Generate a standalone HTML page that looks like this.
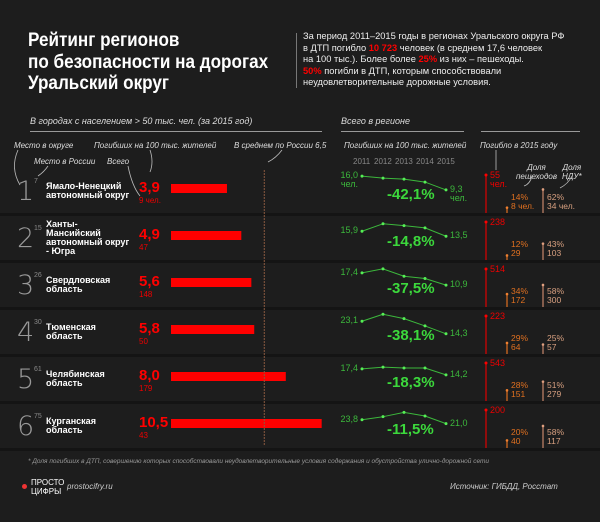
<!DOCTYPE html>
<html><head><meta charset="utf-8">
<style>
body{margin:0;background:#1c1c1c;}
#c{position:relative;width:600px;height:522px;background:#1d1d1d;overflow:hidden;font-family:"Liberation Sans",sans-serif;color:#fff;}
.a{position:absolute;white-space:nowrap;}
.it{font-style:italic;color:#ddd;font-size:8px;}
</style></head><body>
<div id="c">
<div class="a" style="left:28px;top:30px;font-size:19px;font-weight:bold;line-height:21.5px;transform:scaleX(0.9);transform-origin:0 0;">Рейтинг регионов<br>по безопасности на дорогах<br>Уральский округ</div>
<div class="a" style="left:296px;top:33px;width:1px;height:55px;background:#777;"></div>
<div class="a" style="left:303px;top:31px;font-size:9.3px;line-height:11.6px;color:#eee;">За период 2011–2015 годы в регионах Уральского округа РФ<br>в ДТП погибло <b style="color:#f00">10 723</b> человек (в среднем 17,6 человек<br>на 100 тыс.). Более более <b style="color:#f00">25%</b> из них – пешеходы.<br><b style="color:#f00">50%</b> погибли в ДТП, которым способствовали<br>неудовлетворительные дорожные условия.</div>

<div class="a it" style="left:30px;top:116px;font-size:9px;">В городах с населением &gt; 50 тыс. чел. (за 2015 год)</div>
<div class="a" style="left:30px;top:131px;width:292px;height:1px;background:#999;"></div>
<div class="a it" style="left:341px;top:116px;font-size:9px;">Всего в регионе</div>
<div class="a" style="left:341px;top:131px;width:123px;height:1px;background:#999;"></div>
<div class="a" style="left:481px;top:131px;width:99px;height:1px;background:#999;"></div>

<div class="a it" style="left:14px;top:141px;">Место в округе</div>
<div class="a it" style="left:34px;top:157px;">Место в России</div>
<div class="a it" style="left:94px;top:141px;">Погибших на 100 тыс. жителей</div>
<div class="a it" style="left:107px;top:157px;">Всего</div>
<div class="a it" style="left:234px;top:141px;">В среднем по России 6,5</div>
<div class="a it" style="left:344px;top:141px;">Погибших на 100 тыс. жителей</div>
<div class="a it" style="left:480px;top:141px;">Погибло в 2015 году</div>
<div class="a it" style="left:516px;top:163px;line-height:9px;text-align:center;">Доля<br>пешеходов</div>
<div class="a it" style="left:562px;top:163px;line-height:9px;text-align:center;">Доля<br>НДУ*</div>

<svg id="s" class="a" style="left:0;top:0" width="600" height="522"></svg>

<div class="a it" style="left:28px;top:458px;font-size:6.5px;color:#999;">* Доля погибших в ДТП, совершению которых способствовали неудовлетворительные условия содержания и обустройства улично-дорожной сети</div>
<div class="a" style="left:22px;top:484px;width:5px;height:5px;border-radius:50%;background:#e33;"></div>
<div class="a" style="left:31px;top:478px;font-size:8px;line-height:9px;color:#fff;">ПРОСТО<br>ЦИФРЫ</div>
<div class="a it" style="left:67px;top:482px;font-size:8px;color:#ccc;">prostocifry.ru</div>
<div class="a it" style="left:450px;top:482px;font-size:8px;color:#ccc;">Источник: ГИБДД, Росстат</div>
</div>
<script>
const names=["Ямало-Ненецкий<br>автономный округ","Ханты-<br>Мансийский<br>автономный округ<br>- Югра","Свердловская<br>область","Тюменская<br>область","Челябинская<br>область","Курганская<br>область"];
const russiaRank=[7,15,26,30,61,75];
const rate=[3.9,4.9,5.6,5.8,8.0,10.5];
const totalCity=["9 чел.","47","148","50","179","43"];
const series=[[16.0,15.0,14.5,13.1,9.3],[15.9,19.5,18.6,17.5,13.5],[17.4,19.5,15.6,14.4,10.9],[23.1,28.0,24.9,19.8,14.3],[17.4,18.3,17.8,17.8,14.2],[23.8,26.0,29.1,26.5,21.0]];
const change=["-42,1%","-14,8%","-37,5%","-38,1%","-18,3%","-11,5%"];
const deaths=[55,238,514,223,543,200];
const pedPct=[14,12,34,29,28,20];
const pedN=["8 чел.","29","172","64","151","40"];
const nduPct=[62,43,58,25,51,58];
const nduN=["34 чел.","103","300","57","279","117"];
const years=["2011","2012","2013","2014","2015"];
const avgRussia=6.5;

const c=document.getElementById('c'),s=document.getElementById('s'),NS="http://www.w3.org/2000/svg";
const rowTop=i=>167+i*47, barX=v=>171+v*14.35, yearX=j=>362+j*21;
function el(t,a){const e=document.createElementNS(NS,t);for(const k in a)e.setAttribute(k,a[k]);s.appendChild(e);return e;}
function div(html,st){const d=document.createElement('div');d.className='a';d.innerHTML=html;d.style.cssText=st;c.appendChild(d);return d;}
years.forEach((y,j)=>{const d=div(y,`left:${yearX(j)-9}px;top:157px;font-size:8px;color:#888;`);

});
for(let i=0;i<6;i++){
 const t=rowTop(i),b=t+47;
 const sep=el('rect',{x:0,y:b-1,width:600,height:3,fill:'#141414'});
 
 
 let d=div(String(i+1),`left:17px;top:${t+9}px;font-family:'DejaVu Sans ExtraLight','DejaVu Sans',sans-serif;font-weight:200;font-size:27px;color:#999;`);
 
 
 d=div(String(russiaRank[i]),`left:34px;top:${t+11}px;font-size:7px;color:#888;`);
 
 
 const nl=names[i].split('<br>').length;
 d=div(names[i],`left:46px;top:${t+23.5-nl*4.5}px;font-size:9.5px;font-weight:bold;line-height:9px;transform:scaleX(0.95);transform-origin:0 0;`);
 
 
 d=div(String(rate[i]).replace('.',',').replace(/^(\d+)$/,'$1,0'),`left:139px;top:${t+12}px;font-size:15px;font-weight:bold;color:#f00;`);
 
 
 d=div(totalCity[i],`left:139px;top:${t+29}px;font-size:8px;color:#e00;`);
 
 
 const bar=el('rect',{x:barX(0),y:t+17,width:barX(rate[i])-barX(0),height:9,fill:'#f00'});
 
 
 const v=series[i],f=v[0],k=33;
 const rel=v.map(x=>x/f-1),mid=(Math.max(...rel)+Math.min(...rel))/2;
 const yv=x=>t+16-k*(x/f-1-mid);
 const pl=el('polyline',{points:v.map((x,j)=>yearX(j)+','+yv(x)).join(' '),fill:'none',stroke:'#3cb83c','stroke-width':1});
 
 
 v.forEach((x,j)=>{const p=el('circle',{cx:yearX(j),cy:yv(x),r:1.5,fill:'#5e5'});
 
 });
 const unit=i==0?'<br>чел.':'';
 d=div(String(f.toFixed(1)).replace('.',',')+unit,`left:338px;top:${yv(f)-5}px;font-size:9px;line-height:9px;color:#3cb83c;text-align:right;width:20px;`);
 
 
 d=div(String(v[4].toFixed(1)).replace('.',',')+unit,`left:450px;top:${yv(v[4])-5}px;font-size:9px;line-height:9px;color:#3cb83c;`);
 
 
 d=div(change[i],`left:387px;top:${t+19}px;font-size:15px;font-weight:bold;color:#3cd83c;`);
 
 
 const L=38,bot=b-1;
 let ln=el('line',{x1:486,y1:bot-L,x2:486,y2:bot,stroke:'#d00','stroke-width':1.2});
 
 
 let dt=el('circle',{cx:486,cy:bot-L,r:1.5,fill:'#f00'});
 
 
 d=div(String(deaths[i])+(i==0?'<br>чел.':''),`left:490px;top:${bot-L-4}px;font-size:9px;line-height:9px;color:#e00;`);
 
 
 const pl2=L*pedPct[i]/100;
 ln=el('line',{x1:507,y1:bot-pl2,x2:507,y2:bot,stroke:'#e07020','stroke-width':1.2});
 
 
 dt=el('circle',{cx:507,cy:bot-pl2,r:1.3,fill:'#f08030'});
 
 
 d=div(pedPct[i]+'%<br>'+pedN[i],`left:511px;top:${t+26}px;font-size:8.5px;line-height:8.5px;color:#e07020;`);
 
 
 const nl2=L*nduPct[i]/100;
 ln=el('line',{x1:543,y1:bot-nl2,x2:543,y2:bot,stroke:'#c8876a','stroke-width':1.2});
 
 
 dt=el('circle',{cx:543,cy:bot-nl2,r:1.3,fill:'#e0a080'});
 
 
 d=div(nduPct[i]+'%<br>'+nduN[i],`left:547px;top:${t+26}px;font-size:8.5px;line-height:8.5px;color:#d8a080;`);
 
 
}
const avg=el('line',{x1:barX(avgRussia),y1:170,x2:barX(avgRussia),y2:446,stroke:'#8a5a40','stroke-width':1,'stroke-dasharray':'2,1'});


[["M18 150 Q10 168 20 185"],["M48 166 Q44 172 38 176"],["M150 150 Q154 162 150 172"],["M128 166 Q132 186 140 196"],["M282 150 Q276 158 268 162"],["M496 150 L496 170"],["M532 176 Q530 184 524 186"],["M572 176 Q568 184 560 188"]].forEach(p=>{
 const a=el('path',{d:p[0],fill:'none',stroke:'#bbb','stroke-width':0.8});
 
 });
</script>
</body></html>
